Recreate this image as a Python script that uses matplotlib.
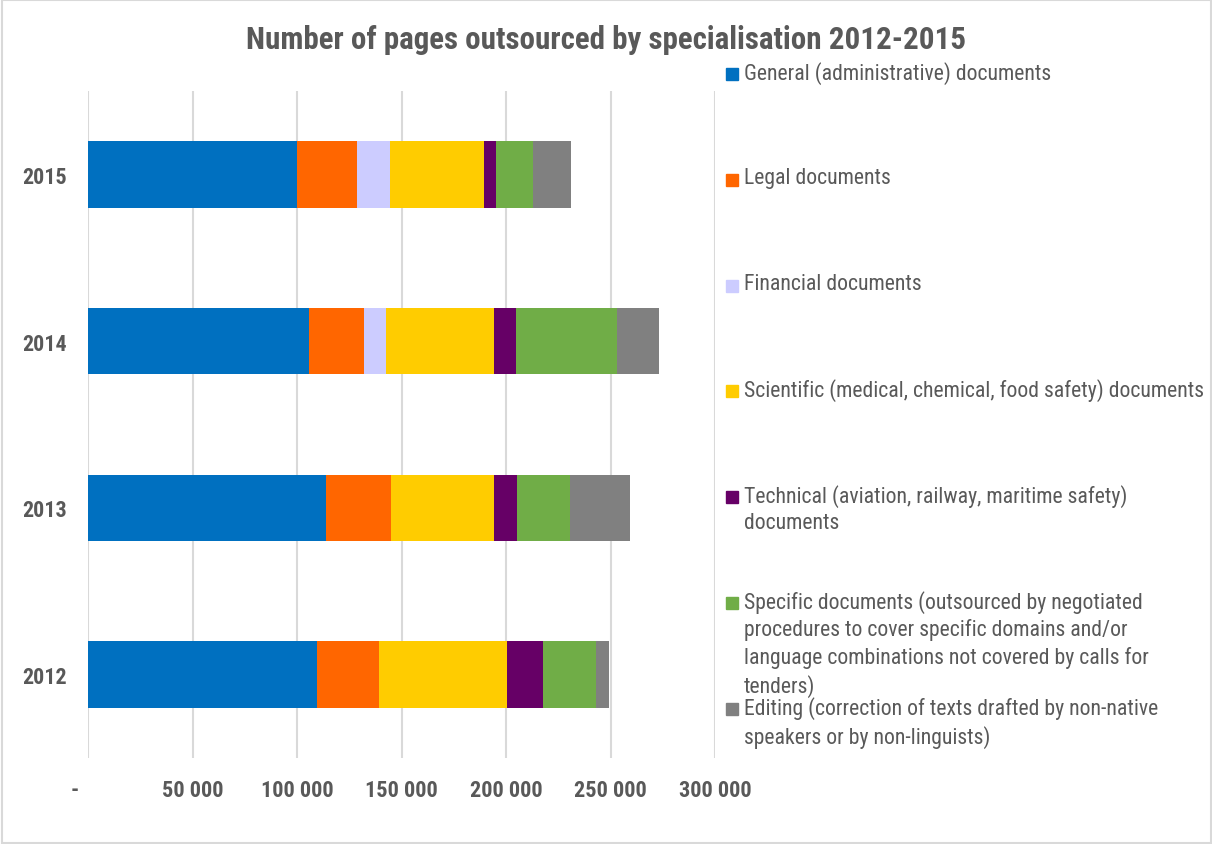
import matplotlib
matplotlib.use("Agg")
import matplotlib.pyplot as plt
from matplotlib import font_manager
from matplotlib.patches import Rectangle

# ---------------- data ----------------
years = ["2012", "2013", "2014", "2015"]
series_names = [
    "General (administrative) documents",
    "Legal documents",
    "Financial documents",
    "Scientific (medical, chemical, food safety) documents",
    "Technical (aviation, railway, maritime safety)\ndocuments",
    "Specific documents (outsourced by negotiated\nprocedures to cover specific domains and/or\nlanguage combinations not covered by calls for\ntenders)",
    "Editing (correction of texts drafted by non-native\nspeakers or by non-linguists)",
]
general = [109400, 113800, 105700, 99900]
legal = [29600, 31400, 26400, 29000]
financial = [0, 0, 10700, 15800]
scientific = [61300, 49100, 51600, 44700]
technical = [17300, 11100, 10400, 5800]
specific = [25300, 25300, 48300, 17500]
editing = [6200, 28400, 20300, 18400]
series_values = [general, legal, financial, scientific, technical, specific, editing]
colors = ["#0070C0", "#FF6600", "#CCCCFF", "#FFCC00", "#660066", "#70AD47", "#808080"]
xticks = [0, 50000, 100000, 150000, 200000, 250000, 300000]
xtick_labels = ["-     ", "50 000", "100 000", "150 000", "200 000", "250 000", "300 000"]
title = "Number of pages outsourced by specialisation 2012-2015"

# ---------------- fonts ----------------
available = {f.name for f in font_manager.fontManager.ttflist}
scale = 1.0
if "Liberation Sans Narrow" in available:
    fam = "Liberation Sans Narrow"
elif "Roboto Condensed" in available:
    fam = "Roboto Condensed"
else:
    fam = "Liberation Sans"
    scale = 0.82
plt.rcParams["font.family"] = [fam, "DejaVu Sans"]
txt = "#595959"

W, H = 1212, 845
fig = plt.figure(figsize=(W / 100, H / 100), dpi=100)
ax = fig.add_axes([88 / W, 1 - 759 / H, (715 - 88) / W, (759 - 92) / H])

ypos = list(range(len(years)))
left = [0] * len(years)
for name, vals, col in zip(series_names, series_values, colors):
    ax.barh(ypos, vals, left=left, height=0.4, color=col, label=name, zorder=3)
    left = [l + v for l, v in zip(left, vals)]

ax.set_xlim(0, 300000)
ax.set_ylim(-0.5, len(years) - 0.5)
ax.set_xticks(xticks)
ax.set_xticklabels(xtick_labels, fontweight="bold")
ax.set_yticks(ypos)
ax.set_yticklabels(years, fontweight="bold")
ax.tick_params(axis="x", length=0, pad=15, labelsize=16 * scale, labelcolor=txt)
ax.tick_params(axis="y", length=0, pad=15, labelsize=15.8 * scale, labelcolor=txt)
ax.grid(axis="x", color="#D9D9D9", linewidth=1.5, zorder=0)
for s in ax.spines.values():
    s.set_visible(False)

fig.text(0.5, 1 - 40 / H, title, ha="center", va="center", fontsize=22.3 * scale,
         fontweight="bold", color=txt)

# legend (manual layout)
entry_tops = [75, 181, 287, 392, 498, 604, 710]
for name, col, yc in zip(series_names, colors, entry_tops):
    fig.patches.append(Rectangle((726 / W, 1 - (yc + 6) / H), 12 / W, 12 / H,
                                 transform=fig.transFigure, color=col))
    fig.text(744 / W, 1 - (yc - 13) / H, name, ha="left", va="top",
             fontsize=15.7 * scale, color=txt, linespacing=1.32)

fig.patches.append(Rectangle((2 / W, 1 / H), (W - 3) / W, (H - 2) / H,
                             transform=fig.transFigure, fill=False,
                             edgecolor="#D9D9D9", linewidth=1.5))

fig.savefig("out.png", dpi=100)
